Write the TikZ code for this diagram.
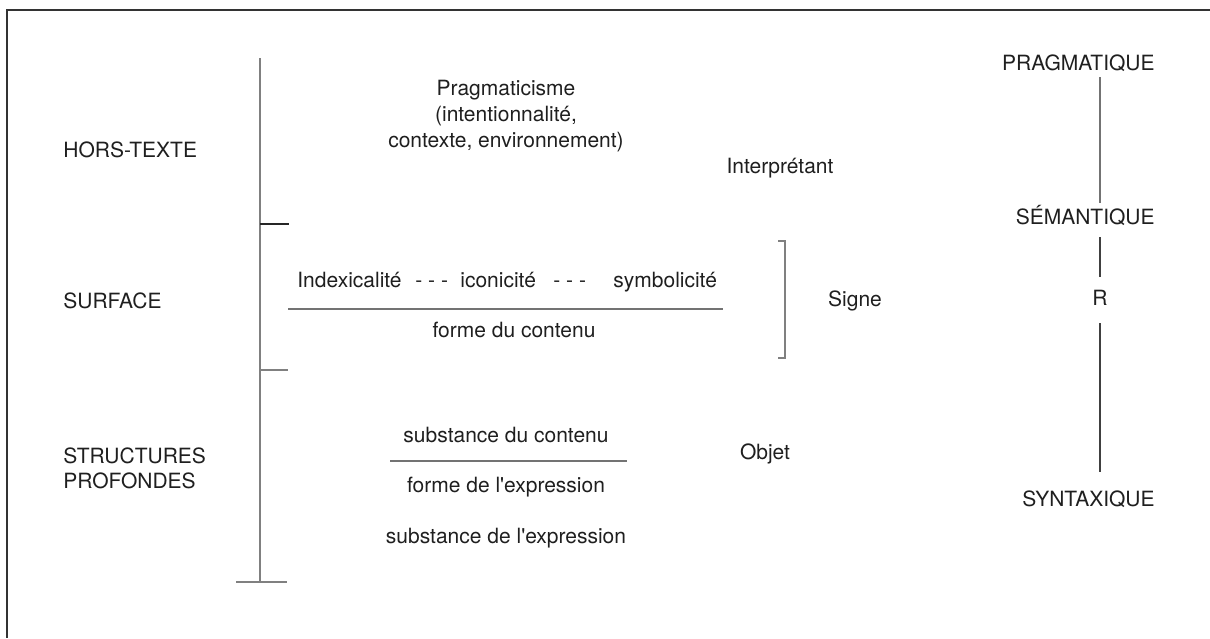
\documentclass[tikz,border=0pt]{standalone}
\usepackage{fontspec}
\setmainfont{TeX Gyre Heros}[Ligatures=TeXOff]
\begin{document}
\begin{tikzpicture}[x=0.5pt,y=-0.5pt,
  every node/.style={font=\fontsize{10.5}{13}\selectfont, text=black!88, inner sep=0pt},
  lbl/.style={anchor=base west},
  ctr/.style={anchor=base},
  rgt/.style={anchor=base east, text height=7.5pt, text depth=0pt},
  frame/.style={draw=black!80, line width=0.9pt},
  axis/.style={draw=black!50, line width=1pt},
  tick/.style={draw=black!85, line width=0.7pt},
  gtick/.style={draw=black!50, line width=0.8pt},
  bar/.style={draw=black!55, line width=0.8pt},
  rline/.style={draw=black!55, line width=0.8pt},
  dline/.style={draw=black!75, line width=0.6pt}]
\path[use as bounding box] (0,0) rectangle (1210,638);
% frame
\draw[frame] (1210,10) -- (7,10) -- (7,638);
% left axis
\draw[axis] (260,58) -- (260,582);
\draw[tick] (260,224) -- (289,224);
\draw[gtick] (260,370) -- (288,370);
\draw[gtick] (236,582) -- (287,582);
% left labels
\node[lbl] (hors) at (63,157) {HORS-TEXTE};
\node[lbl] (surf) at (63,308) {SURFACE};
\node[lbl] (struct) at (63,463) {STRUCTURES};
\node[lbl] (prof) at (63,488) {PROFONDES};
% pragmaticisme block
\node[ctr] (pragA) at (506,95) {Pragmaticisme};
\node[ctr] (pragB) at (506,121) {(intentionnalité,};
\node[ctr] (pragC) at (506,147) {contexte, environnement)};
\node[ctr] (interp) at (780,173) {Interprétant};
% surface row
\node[lbl] (index) at (297,287) {Indexicalité};
\node[lbl] (dashA) at (415,287) {- - -};
\node[lbl] (icon) at (460,287) {iconicité};
\node[lbl] (dashB) at (553,287) {- - -};
\node[lbl] (symb) at (613,287) {symbolicité};
\draw[bar] (288,309) -- (723,309);
\node[ctr] (forme) at (514,337) {forme du contenu};
% bracket
\draw[gtick] (778,241) -- (785,241) -- (785,358) -- (778,358);
\node[ctr] (signe) at (855,306) {Signe};
% deep structures
\node[ctr] (substc) at (506,442) {substance du contenu};
\draw[bar] (390,461) -- (627,461);
\node[ctr] (formex) at (506,492) {forme de l'expression};
\node[ctr] (substex) at (506,543) {substance de l'expression};
\node[ctr] (objet) at (765,459) {Objet};
% right column
\node[rgt] (prag) at (1155,70) {PRAGMATIQUE};
\node[rgt] (sem) at (1155,224) {SÉMANTIQUE};
\node[rgt, anchor=base] (R) at (1100,305) {R};
\node[rgt] (synt) at (1155,506) {SYNTAXIQUE};
\draw[rline, shorten <=3.5pt, shorten >=3pt] (prag.south -| R) -- (sem.north -| R);
\draw[dline, shorten <=6.5pt, shorten >=6.5pt] (sem.south -| R) -- (R.north);
\draw[dline, shorten <=9pt, shorten >=9.5pt] (R.south) -- (synt.north -| R);
\end{tikzpicture}
\end{document}
